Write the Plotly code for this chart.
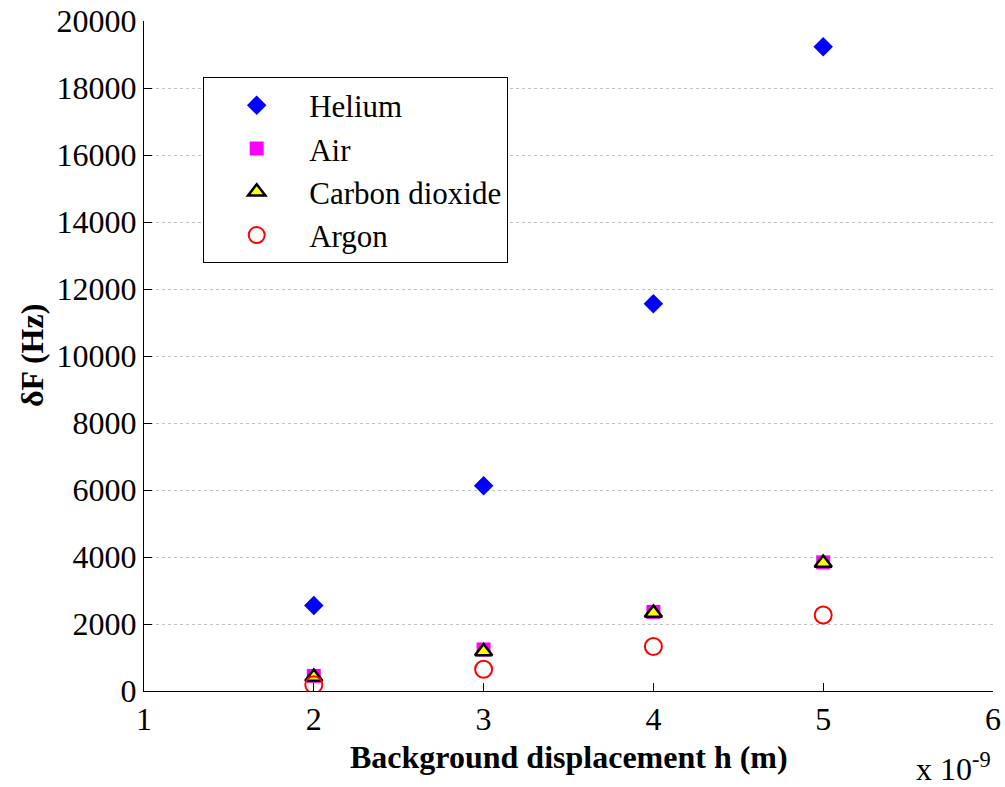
import plotly.graph_objects as go

x_vals = [2, 3, 4, 5]
helium = [2550, 6130, 11560, 19230]
air = [450, 1240, 2360, 3840]
co2 = [420, 1180, 2330, 3820]
argon = [190, 650, 1330, 2270]

x_ticks = [1, 2, 3, 4, 5, 6]
y_ticks = list(range(0, 20001, 2000))
y_tick_text = [str(v) for v in y_ticks]

FONT = "Liberation Serif"

fig = go.Figure()
fig.add_trace(go.Scatter(x=x_vals, y=helium, mode="markers", name="Helium",
                         marker=dict(symbol="diamond", size=15, color="#0000ff",
                                     line=dict(width=0))))
fig.add_trace(go.Scatter(x=x_vals, y=air, mode="markers", name="Air",
                         marker=dict(symbol="square", size=14, color="#ff00ff",
                                     line=dict(width=0))))
fig.add_trace(go.Scatter(x=x_vals, y=co2, mode="markers", name="Carbon dioxide",
                         marker=dict(symbol="triangle-up", size=15, color="#ffff00",
                                     line=dict(width=2.5, color="black"))))
fig.add_trace(go.Scatter(x=x_vals, y=argon, mode="markers", name="Argon",
                         marker=dict(symbol="circle-open", size=17, color="#ff0000",
                                     line=dict(width=2, color="#ff0000"))))

fig.update_layout(
    width=1005, height=787,
    margin=dict(l=144, r=12, t=21, b=96, autoexpand=False),
    paper_bgcolor="white", plot_bgcolor="white",
    font=dict(family=FONT, size=32, color="black"),
    showlegend=True,
    legend=dict(x=0.0695, y=0.916, xanchor="left", yanchor="top",
                bordercolor="black", borderwidth=1.2, bgcolor="white",
                font=dict(family=FONT, size=31), itemwidth=95,
                tracegroupgap=0),
    xaxis=dict(range=[1, 6], tickvals=x_ticks, ticks="inside", ticklen=8,
               tickcolor="black", showline=True, linecolor="black", linewidth=1,
               showgrid=False, zeroline=False, mirror=False, automargin=False,
               tickfont=dict(family=FONT, size=32)),
    yaxis=dict(range=[0, 20000], tickvals=y_ticks, ticktext=y_tick_text,
               ticks="inside", ticklen=8,
               tickcolor="black", showline=True, linecolor="black", linewidth=1,
               showgrid=True, gridcolor="#c0c0c0", griddash="dot", gridwidth=1,
               zeroline=False, mirror=False, automargin=False,
               tickfont=dict(family=FONT, size=32)),
    annotations=[
        dict(text="<b>Background displacement h (m)</b>", xref="paper", yref="paper",
             x=0.5, y=0, yshift=-66, xanchor="center", yanchor="middle",
             showarrow=False, font=dict(family=FONT, size=32)),
        dict(text="<b>δF (Hz)</b>", xref="paper", yref="paper",
             x=0, y=0.5, xshift=-112, xanchor="center", yanchor="middle",
             textangle=-90, showarrow=False, font=dict(family=FONT, size=32)),
        dict(text="x 10<sup>-9</sup>", xref="paper", yref="paper",
             x=1, y=0, xshift=0, yshift=-54, xanchor="right", yanchor="top",
             showarrow=False, font=dict(family=FONT, size=32)),
    ],
)

fig.write_html("out.html")
